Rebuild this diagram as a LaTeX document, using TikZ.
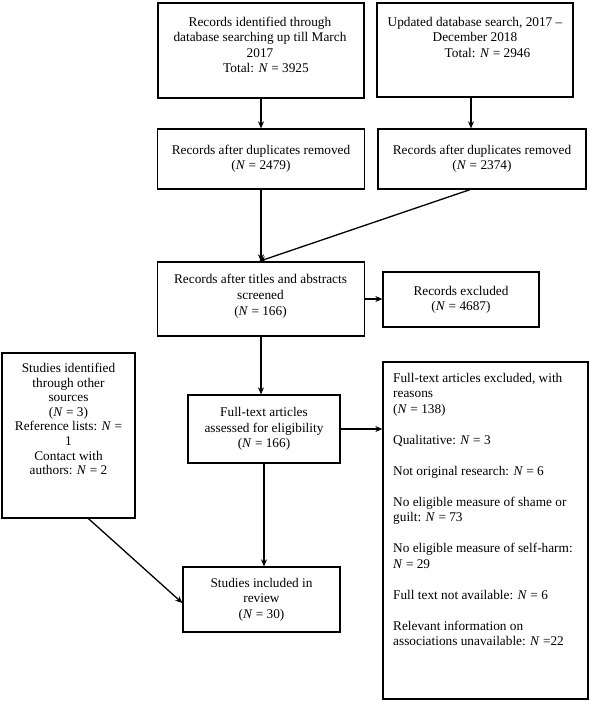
\documentclass[tikz,border=0pt]{standalone}
\usepackage{fontspec}
\setmainfont{Liberation Serif}
\usetikzlibrary{arrows.meta}
\begin{document}
\begin{tikzpicture}[x=1pt,y=-1pt,
  box/.style={draw, line width=1.3pt, rectangle, inner sep=0pt, align=center, font=\fontsize{13.3}{15.3}\selectfont},
  txt/.style={inner sep=0pt, align=center, font=\fontsize{13.3}{15.3}\selectfont},
  arr/.style={line width=1.3pt, -{Stealth[length=7pt,width=6pt]}}]
\useasboundingbox[fill=white] (0,0) rectangle (590,702);
% boxes
\node[box, minimum width=206pt, minimum height=95pt] (b1) at (261,50.5) {};
\node[box, minimum width=196pt, minimum height=94pt] (b2) at (475,50) {};
\node[box, minimum width=207pt, minimum height=60pt] (b3) at (261,159) {Records after duplicates removed\\(\textit{N} = 2479)};
\node[box, minimum width=208pt, minimum height=60pt] (b4) at (482,159) {Records after duplicates removed\\(\textit{N} = 2374)};
\node[box, minimum width=207pt, minimum height=74pt] (b5) at (261,299) {};
\node[box, minimum width=156pt, minimum height=55pt] (b6) at (461,299.5) {Records excluded\\(\textit{N} = 4687)};
\node[box, minimum width=152pt, minimum height=68pt] (b7) at (264,429) {Full-text articles\\assessed for eligibility\\(\textit{N} = 166)};
\node[box, minimum width=205pt, minimum height=337pt] (b8) at (485.5,530.5) {};
\node[box, minimum width=133pt, minimum height=165pt] (b9) at (68.5,435.5) {};
\node[box, minimum width=157pt, minimum height=65pt] (b10) at (261.5,599.5) {Studies included in\\review\\(\textit{N} = 30)};
% texts of top-aligned boxes
\node[txt, anchor=north] (t1) at (260,17) {Records identified through\\database searching up till March\\2017\\\hspace*{12pt}Total: \textit{N} = 3925};
\node[txt, anchor=north] (t2) at (475,17) {Updated database search, 2017 –\\December 2018\\\hspace*{25pt}Total: \textit{N} = 2946};
\node[txt, anchor=north, font=\fontsize{13.3}{16}\selectfont] (t5) at (260.5,274) {Records after titles and abstracts\\screened\\(\textit{N} = 166)};
\node[txt, anchor=north west, align=left, font=\fontsize{13.3}{15.5}\selectfont] (t8) at (393,373) {Full-text articles excluded, with\\reasons\\(\textit{N} = 138)\\[15.5pt]Qualitative: \textit{N} = 3\\[15.5pt]Not original research: \textit{N} = 6\\[15.5pt]No eligible measure of shame or\\guilt: \textit{N} = 73\\[15.5pt]No eligible measure of self-harm:\\\textit{N} = 29\\[15.5pt]Full text not available: \textit{N} = 6\\[15.5pt]Relevant information on\\associations unavailable: \textit{N} =22};
\node[txt, anchor=north, font=\fontsize{13.3}{14.6}\selectfont] (t9) at (68.5,363) {Studies identified\\through other\\sources\\(\textit{N} = 3)\\Reference lists: \textit{N} =\\1\\Contact with\\authors: \textit{N} = 2};
% connectors
\draw[arr] (b1.south) -- (b1.south |- b3.north);
\draw[arr] ([xshift=-4pt]b2.south) -- ([xshift=-4pt]b2.south |- b4.north);
\draw[arr] (b3.south) -- (b3.south |- b5.north);
\draw[arr] ([xshift=-12pt]b4.south) -- ([xshift=-2pt]b5.north);
\draw[arr] (b5.east) -- (b5.east -| b6.west);
\draw[arr] (b5.south) -- (b5.south |- b7.north);
\draw[arr] (b7.east) -- (b7.east -| b8.west);
\draw[arr] (b7.south) -- (b7.south |- b10.north);
\draw[arr] ([xshift=20pt]b9.south) -- ([yshift=-3.5pt]b10.west);
\end{tikzpicture}
\end{document}
